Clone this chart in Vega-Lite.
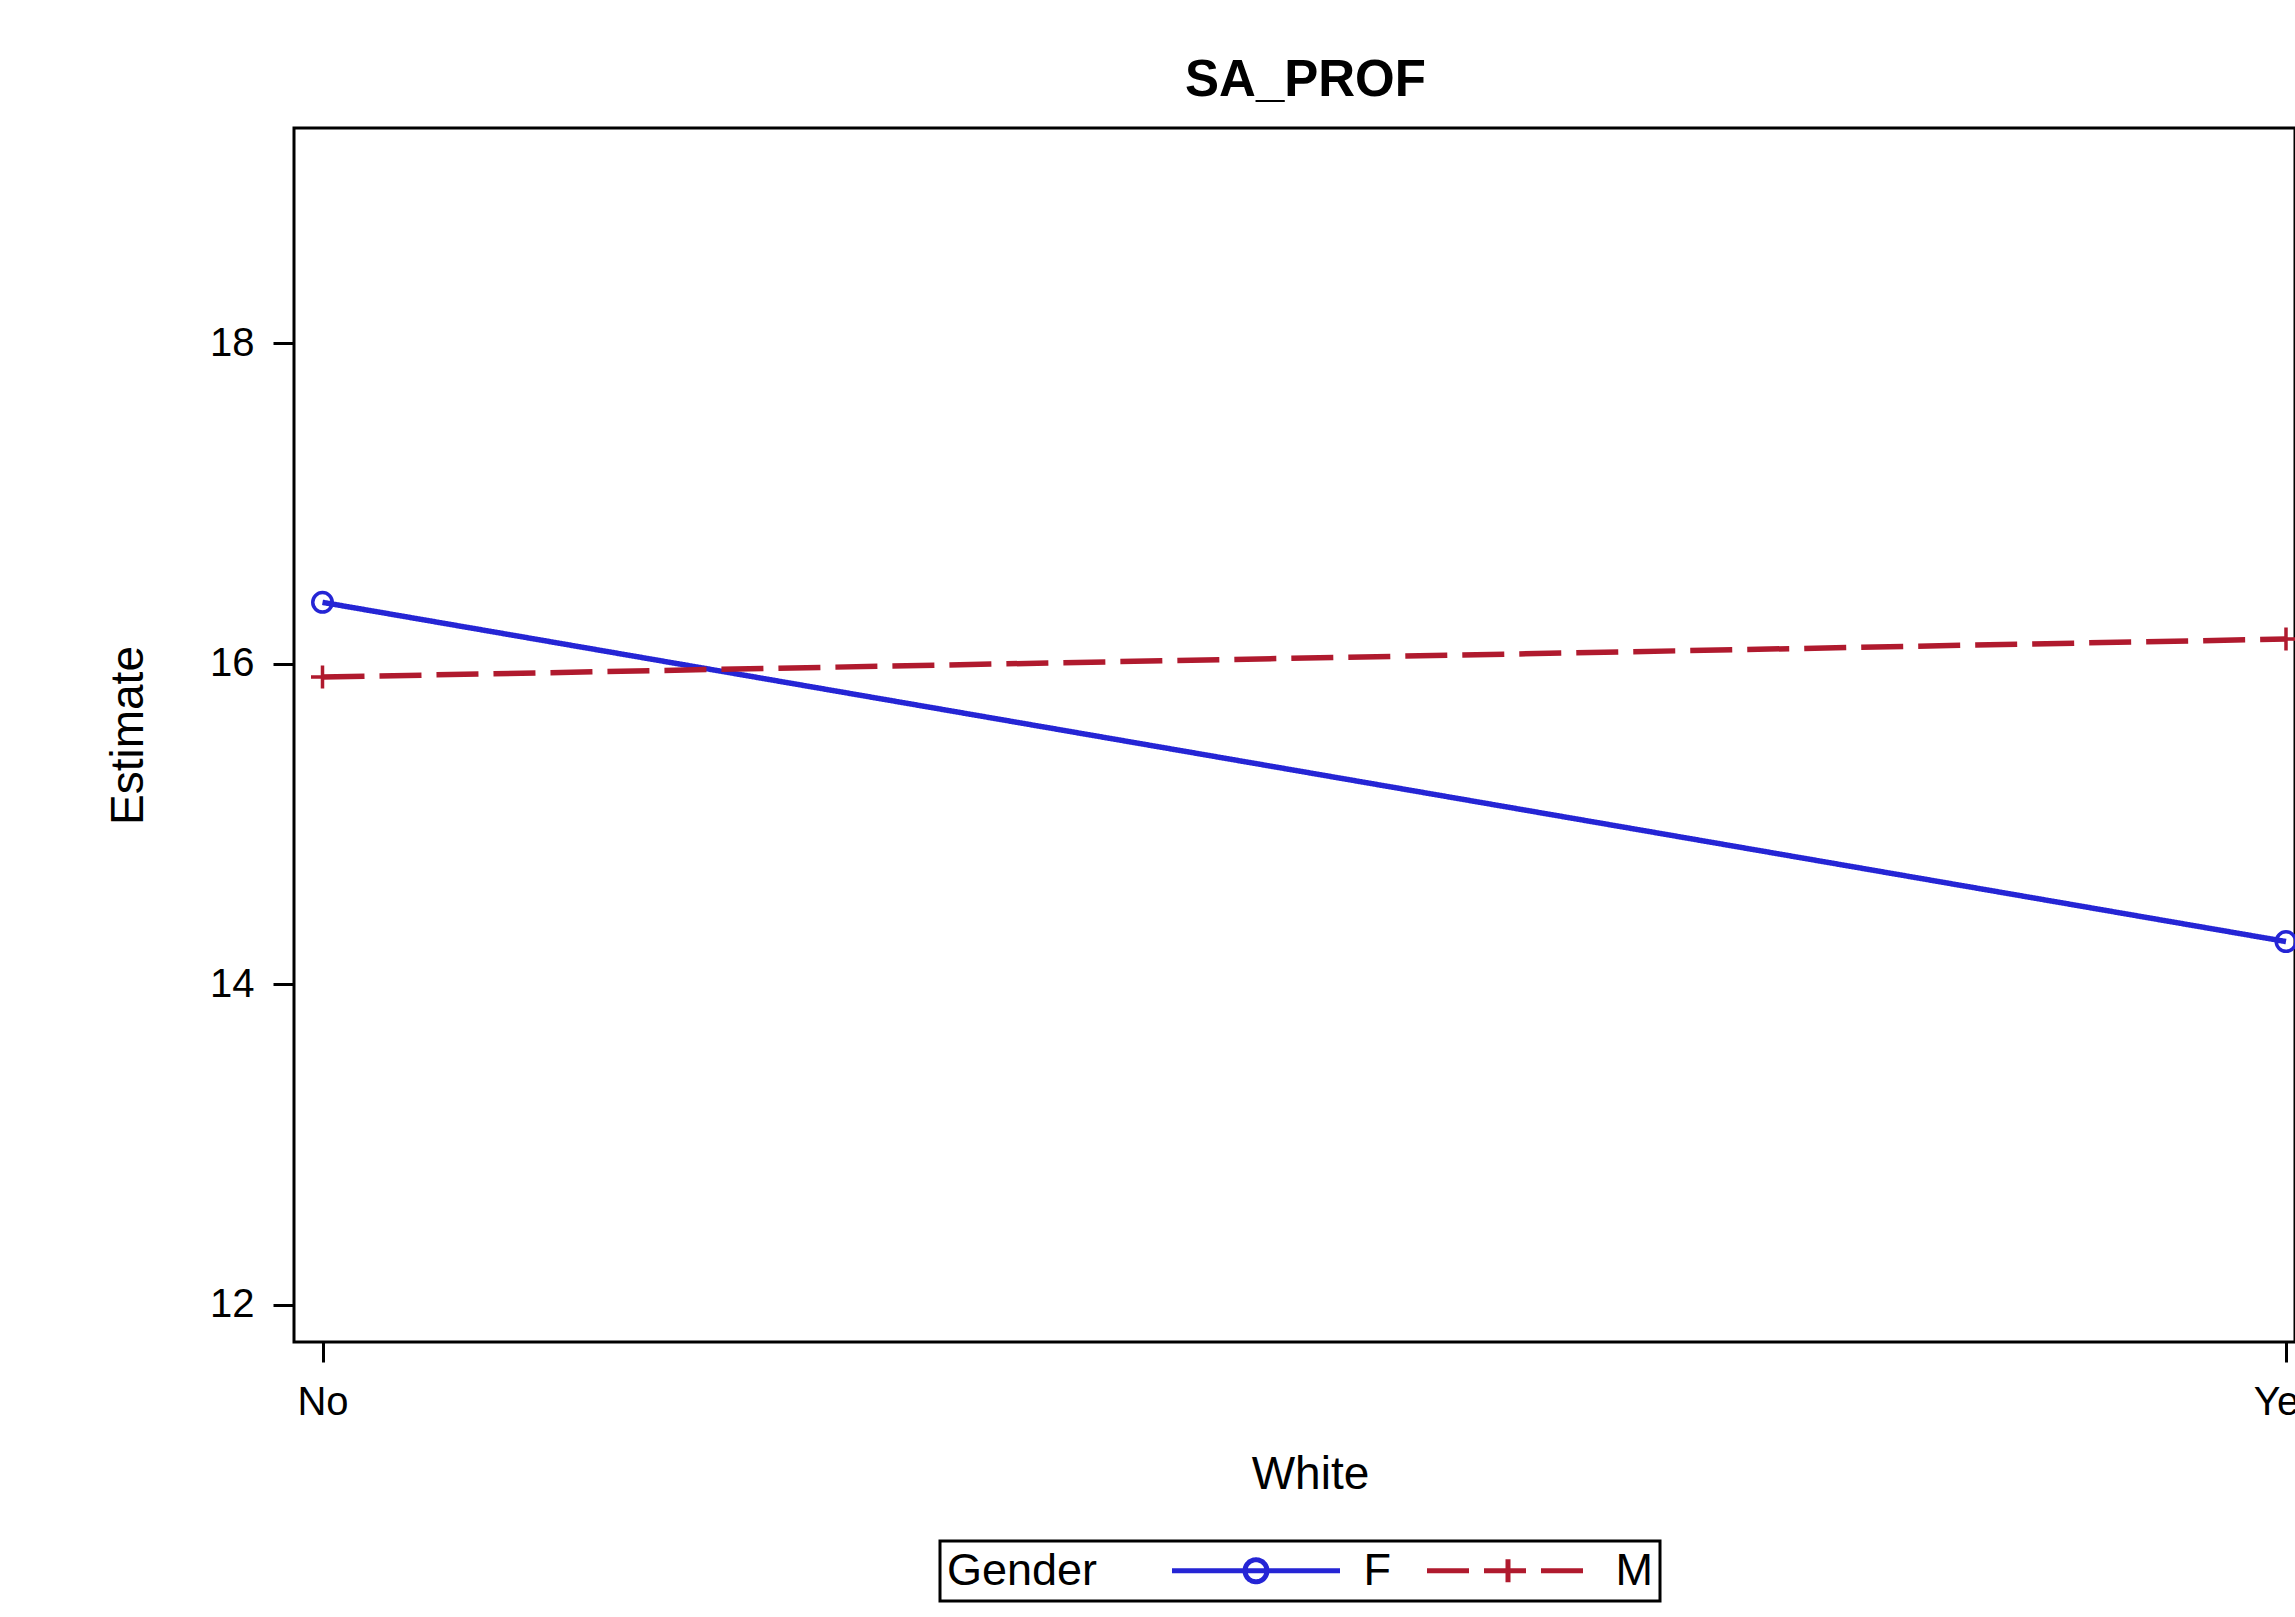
{
  "$schema": "https://vega.github.io/schema/vega-lite/v6.json",
  "width": 2001,
  "height": 1214,
  "autosize": {"type": "none"},
  "padding": {"left": 294, "top": 128, "right": 0, "bottom": 275},
  "background": "white",
  "title": {"text": "SA_PROF", "fontSize": 51, "fontWeight": "bold", "font": "Liberation Sans", "color": "black", "offset": 21, "anchor": "middle", "dx": 11},
  "data": {"values": [
    {"White": "No", "Gender": "F", "Estimate": 16.383},
    {"White": "Yes", "Gender": "F", "Estimate": 14.267},
    {"White": "No", "Gender": "M", "Estimate": 15.917},
    {"White": "Yes", "Gender": "M", "Estimate": 16.154}
  ]},
  "encoding": {
    "x": {"field": "White", "type": "nominal", "title": "White",
          "scale": {"type": "point", "padding": 0.00955, "align": 0.76}},
    "y": {"field": "Estimate", "type": "quantitative", "title": "Estimate",
          "scale": {"domain": [11.769, 19.342], "nice": false, "zero": false},
          "axis": {"values": [12, 14, 16, 18]}}
  },
  "layer": [
    {
      "mark": {"type": "point", "filled": false, "opacity": 0, "strokeWidth": 5},
      "encoding": {
        "color": {"field": "Gender", "type": "nominal", "title": "Gender",
                  "scale": {"domain": ["F", "M"], "range": ["#2525D5", "#B01A2E"]},
                  "legend": {"orient": "none", "legendX": 646, "legendY": 1413, "direction": "horizontal"}},
        "shape": {"field": "Gender", "type": "nominal", "title": "Gender",
                  "scale": {"domain": ["F", "M"], "range": [
                    "M-5.6,0H5.6M0.733,0A0.733,0.733 0 1 1 -0.733,0A0.733,0.733 0 1 1 0.733,0",
                    "M-5.4,0H5.4M0,-0.767V0.767"]}},
        "strokeDash": {"field": "Gender", "type": "nominal", "title": "Gender",
                       "scale": {"domain": ["F", "M"], "range": [[1, 0], [42, 15]]}}
      }
    },
    {
      "mark": {"type": "line", "strokeWidth": 5.5},
      "encoding": {
        "color": {"field": "Gender", "type": "nominal", "title": "Gender"},
        "strokeDash": {"field": "Gender", "type": "nominal", "title": "Gender"}
      }
    },
    {
      "transform": [{"filter": "datum.Gender == 'F'"}],
      "mark": {"type": "point", "shape": "circle", "filled": false, "color": "#2525D5", "size": 380, "strokeWidth": 3.5, "opacity": 1}
    },
    {
      "transform": [{"filter": "datum.Gender == 'M'"}],
      "mark": {"type": "point", "shape": "M-1,0H1M0,-1V1", "filled": false, "color": "#B01A2E", "size": 529, "strokeWidth": 3.5, "opacity": 1}
    }
  ],
  "config": {
    "font": "Liberation Sans",
    "view": {"stroke": "black", "strokeWidth": 3},
    "axis": {
      "domain": false, "grid": false,
      "tickColor": "black", "tickWidth": 3,
      "labelColor": "black", "labelFont": "Liberation Sans", "labelFontSize": 40,
      "titleColor": "black", "titleFont": "Liberation Sans", "titleFontSize": 46, "titleFontWeight": "normal"
    },
    "axisX": {"tickSize": 20, "labelPadding": 20, "titlePadding": 30, "labelAngle": 0, "titleX": 1016},
    "axisY": {"tickSize": 21, "labelPadding": 19, "titlePadding": 57},
    "legend": {
      "titleOrient": "left",
      "titleFont": "Liberation Sans", "titleFontSize": 45, "titleFontWeight": "normal", "titleColor": "black",
      "titlePadding": 74,
      "labelFont": "Liberation Sans", "labelFontSize": 45, "labelColor": "black",
      "labelOffset": 85, "symbolOffset": 61.5,
      "columnPadding": 26, "padding": 7,
      "strokeColor": "black", "strokeWidth": 3,
      "symbolSize": 900, "symbolStrokeWidth": 5, "symbolOpacity": 1
    }
  }
}
